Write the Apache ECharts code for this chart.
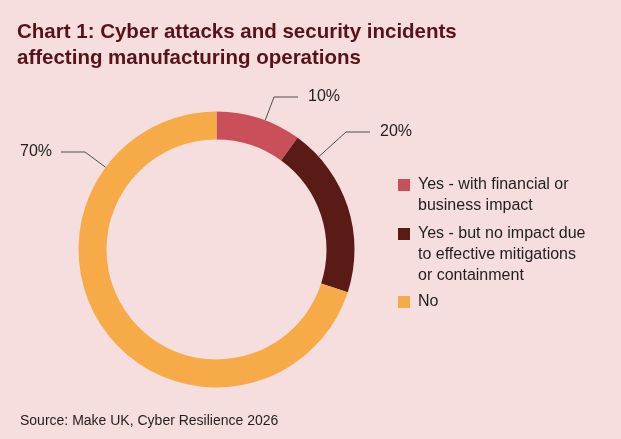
<!DOCTYPE html>
<html>
<head>
<meta charset="utf-8">
<title>Chart 1</title>
<script src="https://cdn.jsdelivr.net/npm/echarts@6/dist/echarts.min.js"></script>
<style>
html, body { margin: 0; padding: 0; background: #f6dede; }
#chart { width: 621px; height: 439px; }
</style>
</head>
<body>
<div id="chart"></div>
<script>
var categories = [
    'Yes - with financial or\nbusiness impact',
    'Yes - but no impact due\nto effective mitigations\nor containment',
    'No'
];
var shares = [10, 20, 70];
var colors = ['#c94f5a', '#5a1a15', '#f7aa48'];

// where each percentage label's line ends (px) and which side the text is on
var labelSpots = [[298, 97, 'left'], [370, 132, 'left'], [61, 152, 'right']];
var legendTops = [174.5, 223.5, 291.5];

var FONT = '"Liberation Sans", Arial, Helvetica, sans-serif';
var TEXT = '#1e1e1e';
var CENTER = [216.5, 249.5];
var RADIUS = [110, 138];
var ELBOW = 24;

/** legend square sitting on the first text line **/
function legendIcon(lines) {
    return 'path://M0,0M15,' + (21 * lines) + 'M0,4.5h12v12h-12z';
}

/** label line: horizontal piece, then straight to the nearest point of the ring **/
function guidePoints(s) {
    var x = s[0], y = s[1];
    var x1 = s[2] === 'left' ? x - ELBOW : x + ELBOW;
    var dx = x1 - CENTER[0], dy = y - CENTER[1];
    var d = Math.sqrt(dx * dx + dy * dy);
    return [
        [CENTER[0] + dx * RADIUS[1] / d, CENTER[1] + dy * RADIUS[1] / d],
        [x1, y],
        [x, y]
    ];
}

var pieData = categories.map(function (name, i) {
    var left = labelSpots[i][2] === 'left';
    return {
        name: name,
        value: shares[i],
        itemStyle: { color: colors[i] },
        label: { padding: left ? [0, 0, 0, 10] : [0, 9, 0, 0] }
    };
});

var option = {
    backgroundColor: '#f6dede',
    animation: false,
    title: [{
        text: 'Chart 1: Cyber attacks and security incidents\naffecting manufacturing operations',
        left: 17,
        top: 19,
        padding: 0,
        textStyle: { fontFamily: FONT, fontSize: 20.5, fontWeight: 'bold', lineHeight: 26, color: '#5b1118' }
    }, {
        text: 'Source: Make UK, Cyber Resilience 2026',
        left: 20,
        top: 413,
        padding: 0,
        textStyle: { fontFamily: FONT, fontSize: 14, fontWeight: 'normal', lineHeight: 16, color: TEXT }
    }],
    legend: categories.map(function (name, i) {
        var n = name.split('\n').length;
        return {
            data: [name],
            orient: 'vertical',
            left: 398,
            top: legendTops[i],
            padding: 0,
            itemWidth: 15,
            itemHeight: 21 * n,
            icon: legendIcon(n),
            itemStyle: { borderWidth: 0 },
            selectedMode: false,
            textStyle: { fontFamily: FONT, fontSize: 16, lineHeight: 21, color: TEXT }
        };
    }),
    series: [{
        name: 'Cyber attacks',
        type: 'pie',
        center: CENTER,
        radius: RADIUS,
        startAngle: 90,
        clockwise: true,
        silent: true,
        itemStyle: { borderWidth: 0 },
        label: {
            show: true,
            position: 'outside',
            formatter: '{c}%',
            fontFamily: FONT,
            fontSize: 16,
            color: TEXT
        },
        labelLine: {
            show: true,
            length: 10,
            length2: ELBOW,
            lineStyle: { color: '#4d4d4d', width: 1 }
        },
        labelLayout: function (p) {
            var s = labelSpots[p.dataIndex];
            return {
                x: s[0],
                y: s[1],
                align: s[2],
                verticalAlign: 'middle',
                labelLinePoints: guidePoints(s)
            };
        },
        data: pieData
    }]
};

var myChart = echarts.init(document.getElementById('chart'));
myChart.setOption(option);
</script>
</body>
</html>
